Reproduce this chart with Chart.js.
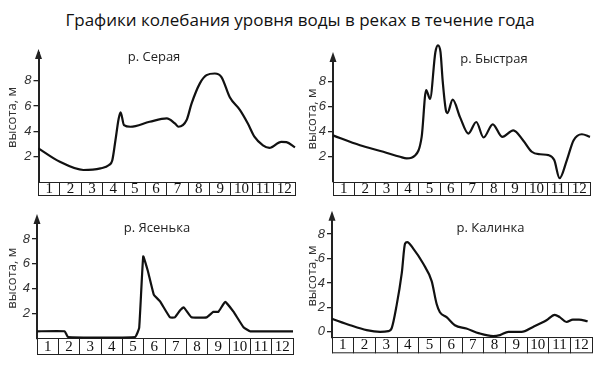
<!DOCTYPE html>
<html lang="ru">
<head>
<meta charset="utf-8">
<title>Графики колебания уровня воды</title>
<script src="https://cdn.jsdelivr.net/npm/chart.js@4.4.1/dist/chart.umd.min.js"></script>
<style>
  html, body { margin: 0; padding: 0; background: #fff; }
  body { width: 600px; height: 367px; position: relative; overflow: hidden; }
  #title { position: absolute; left: 0; top: 8px; width: 600px; text-align: center;
           font: 17px 'Open Sans', sans-serif; color: #111; }
  .panel { position: absolute; }
</style>
</head>
<body>
<div id="title">Графики колебания уровня воды в реках в течение года</div>
<div class="panel" style="left:0;top:30px;width:300px;height:175px"><canvas id="c1"></canvas></div>
<div class="panel" style="left:300px;top:30px;width:300px;height:175px"><canvas id="c2"></canvas></div>
<div class="panel" style="left:0;top:205px;width:300px;height:162px"><canvas id="c3"></canvas></div>
<div class="panel" style="left:300px;top:205px;width:300px;height:162px"><canvas id="c4"></canvas></div>
<script>
const months = ['1', '2', '3', '4', '5', '6', '7', '8', '9', '10', '11', '12'];
const rivers = ['р. Серая', 'р. Быстрая', 'р. Ясенька', 'р. Калинка'];
const yTicksTop = [2, 4, 6, 8];
const yTicksKalinka = [0, 2, 4, 6, 8];

// time in months from the start of the year, water level in metres
const serayaT = [0, 1.0, 2.1, 2.9, 3.3, 3.45, 3.6, 3.75, 3.84, 4.0, 4.3, 5.2, 6.0, 6.38, 6.55, 6.93, 7.16, 7.55, 7.86, 8.25, 8.56, 8.95, 9.42, 9.8, 10.1, 10.5, 10.8, 11.36, 11.6, 12];
const serayaH = [2.66, 1.6, 0.95, 1.08, 1.34, 1.7, 3.3, 5.0, 5.5, 4.5, 4.37, 4.76, 5.03, 4.63, 4.37, 4.9, 6.2, 7.8, 8.45, 8.58, 8.3, 6.7, 5.7, 4.6, 3.58, 2.9, 2.7, 3.18, 3.15, 2.74];

const bystrayaT = [0, 1.26, 2.35, 3.13, 3.44, 3.83, 4.14, 4.35, 4.53, 4.78, 4.9, 5.02, 5.12, 5.27, 5.34, 5.59, 5.93, 6.32, 6.69, 7.03, 7.46, 7.9, 8.42, 8.88, 9.28, 9.67, 10.06, 10.33, 10.58, 10.92, 11.23, 11.62, 12];
const bystrayaH = [3.7, 2.92, 2.4, 2.0, 1.87, 2.1, 3.58, 7.3, 6.6, 10.3, 10.85, 10.3, 8.05, 5.7, 5.47, 6.53, 5.15, 3.84, 4.76, 3.53, 4.58, 3.58, 4.1, 3.3, 2.4, 2.2, 2.13, 1.74, 0.3, 1.74, 3.3, 3.79, 3.58];

const yasenkaT = [0, 1.3, 1.45, 4.6, 4.79, 4.98, 5.2, 5.48, 5.76, 6.23, 6.46, 6.7, 6.88, 7.24, 7.95, 8.27, 8.5, 8.82, 9.2, 9.68, 10.0, 12];
const yasenkaH = [0.58, 0.58, 0.12, 0.12, 0.85, 6.6, 5.4, 3.5, 3.0, 1.7, 1.7, 2.25, 2.5, 1.7, 1.7, 2.14, 2.14, 2.94, 2.18, 0.9, 0.58, 0.58];

const kalinkaT = [0, 0.84, 1.6, 2.22, 2.6, 2.75, 2.98, 3.22, 3.37, 3.47, 3.75, 4.2, 4.6, 4.83, 4.98, 5.29, 5.67, 6.2, 6.8, 7.44, 7.75, 8.14, 8.75, 9.28, 9.9, 10.28, 10.51, 10.82, 11.12, 11.4, 11.8];
const kalinkaH = [1.07, 0.54, 0.14, 0.0, 0.05, 0.27, 2.14, 4.8, 7.2, 7.34, 6.8, 5.6, 4.14, 2.27, 1.6, 1.2, 0.54, 0.27, -0.13, -0.35, -0.27, 0, 0, 0.4, 0.94, 1.39, 1.2, 0.8, 1.0, 1.0, 0.86];

// x ticks: whole months are cell borders, halves carry the month number
const xTicks = [];
for (let i = 0; i <= 24; i++) xTicks.push({ value: i / 2 });

const ink = '#222';

const panelDecor = {
  id: 'panelDecor',
  afterDraw(chart, args, opts) {
    const { ctx, chartArea: a, scales: { x } } = chart;
    ctx.save();
    // bottom edge of the month strip
    ctx.strokeStyle = ink;
    ctx.lineWidth = 1;
    ctx.beginPath();
    ctx.moveTo(x.left, x.bottom - 0.5);
    ctx.lineTo(x.right, x.bottom - 0.5);
    ctx.stroke();
    // arrow on the y axis
    ctx.fillStyle = ink;
    ctx.beginPath();
    ctx.moveTo(a.left, a.top - 4);
    ctx.lineTo(a.left - 3.5, a.top + 6);
    ctx.lineTo(a.left + 3.5, a.top + 6);
    ctx.closePath();
    ctx.fill();
    // river name
    ctx.font = '13px "Open Sans", sans-serif';
    ctx.textAlign = 'center';
    ctx.textBaseline = 'middle';
    ctx.fillStyle = '#222';
    ctx.fillText(opts.text, opts.x, opts.y);
    ctx.restore();
  }
};

function makeChart(id, t, h, cfg) {
  return new Chart(document.getElementById(id), {
    type: 'line',
    data: {
      datasets: [{
        data: t.map((v, i) => ({ x: v, y: h[i] })),
        borderColor: '#111',
        borderWidth: 2.2,
        pointRadius: 0,
        cubicInterpolationMode: cfg.mode,
        tension: cfg.tension,
        clip: false,
        fill: false
      }]
    },
    options: {
      animation: false,
      responsive: true,
      maintainAspectRatio: false,
      layout: { padding: cfg.pad },
      plugins: {
        legend: { display: false },
        tooltip: { enabled: false },
        panelDecor: { text: cfg.name, x: cfg.nameX, y: cfg.nameY }
      },
      scales: {
        x: {
          type: 'linear', min: 0, max: 12,
          afterBuildTicks: s => { s.ticks = xTicks.map(o => ({ value: o.value })); },
          afterFit: s => { s.height = cfg.boxH; },
          grid: {
            drawOnChartArea: false, drawTicks: true, tickLength: cfg.boxH, lineWidth: 1,
            color: c => (c.tick && Number.isInteger(c.tick.value)) ? ink : 'rgba(0,0,0,0)'
          },
          border: { display: true, color: ink, width: 1 },
          ticks: {
            autoSkip: false, maxRotation: 0, padding: cfg.labPad, color: '#111',
            font: { family: '"Liberation Serif", serif', size: 15 },
            callback: v => Number.isInteger(v) ? '' : months[Math.floor(v)]
          }
        },
        y: {
          min: cfg.yMin, max: cfg.yMax,
          afterBuildTicks: s => { s.ticks = cfg.yTicks.map(v => ({ value: v })); },
          afterFit: s => { s.width = cfg.axisW; },
          grid: { drawOnChartArea: false, drawTicks: true, tickLength: 5, color: ink, lineWidth: 1.3 },
          border: { display: true, color: ink, width: 2 },
          ticks: {
            padding: 2, color: '#333',
            font: { family: '"Liberation Sans", Arial, sans-serif', size: 13, style: 'italic' }
          },
          title: {
            display: true, text: 'высота, м', color: '#333',
            font: { family: '"Open Sans", sans-serif', size: 13 },
            padding: { top: 4, bottom: 0 }
          }
        }
      }
    },
    plugins: [panelDecor]
  });
}

makeChart('c1', serayaT, serayaH, {
  name: rivers[0], nameX: 154, nameY: 27, mode: 'monotone', tension: 0.4,
  pad: { left: 0, right: 5, top: 23, bottom: 9 }, axisW: 38.5,
  yMin: 0, yMax: 10.2, yTicks: yTicksTop, boxH: 14, labPad: -16
});
makeChart('c2', bystrayaT, bystrayaH, {
  name: rivers[1], nameX: 194, nameY: 29, mode: 'monotone', tension: 0.4,
  pad: { left: 0, right: 10, top: 26, bottom: 9 }, axisW: 33,
  yMin: 0, yMax: 10.0, yTicks: yTicksTop, boxH: 14, labPad: -16
});
makeChart('c3', yasenkaT, yasenkaH, {
  name: rivers[2], nameX: 157, nameY: 23, mode: 'default', tension: 0.1,
  pad: { left: 0, right: 7, top: 13, bottom: 12 }, axisW: 37,
  yMin: 0, yMax: 9.68, yTicks: yTicksTop, boxH: 16.5, labPad: -17.25
});
makeChart('c4', kalinkaT, kalinkaH, {
  name: rivers[3], nameX: 190.5, nameY: 23, mode: 'monotone', tension: 0.4,
  pad: { left: 0, right: 8, top: 7, bottom: 13.7 }, axisW: 32,
  yMin: -0.45, yMax: 9.57, yTicks: yTicksKalinka, boxH: 16, labPad: -17
});
</script>
</body>
</html>
